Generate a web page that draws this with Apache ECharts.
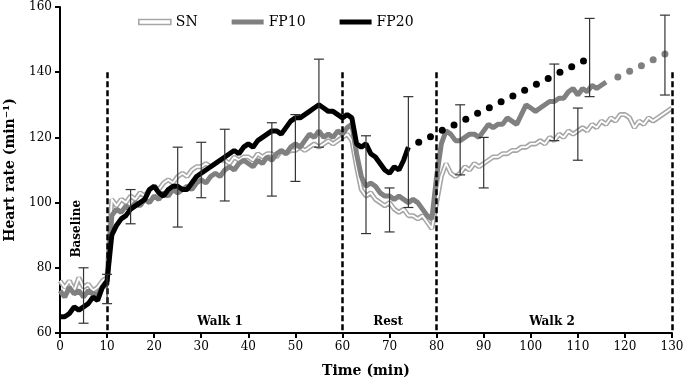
<!DOCTYPE html>
<html>
<head>
<meta charset="utf-8">
<title>Heart rate</title>
<script src="https://cdn.jsdelivr.net/npm/echarts@6/dist/echarts.min.js"></script>
<style>
    html,body{margin:0;padding:0;background:#fff;}
    #chart{width:686px;height:384px;}
</style>
</head>
<body>
<div id="chart"></div>
<script>
/*-------------------------数据----------------------------*/
//每分钟一个点, 下标 = 时间(min)
var snHR = [
    76,74,76,73,77,74,75,73,74,76,77,
    101,99,101,100,102,101,103,102,104,105,
    104,106,107,106,108,109,108,110,111,111,
    112,111,112,113,113,112,114,113,114,114,
    113,115,114,115,115,114,116,115,116,116,
    117,116,117,118,117,118,119,118,119,120,
    121,119,111,104,102,103,101,100,99,100,
    98,97,98,96,96,95,96,94,92,100,
    108,112,109,108,109,111,110,112,111,112,
    113,114,114,115,115,116,116,117,117,118,
    118,119,118,120,119,121,120,122,121,122,
    123,122,124,123,125,124,126,125,127,127,
    126,123,125,124,126,125,126,127,128,129
];
var fp10HR = [
    73,71,74,72,73,71,73,72,72,74,75,
    96,98,97,99,98,100,99,101,100,102,
    101,103,102,104,103,104,105,104,106,107,
    106,108,109,108,110,111,110,112,113,112,
    111,113,112,114,113,115,116,115,117,118,
    117,119,121,120,122,120,121,120,122,121,
    123,124,115,108,105,106,105,103,102,102,
    101,102,101,100,101,100,98,96,95,108,
    118,122,121,119,119,120,121,121,120,122,
    124,123,124,124,126,125,124,127,130,129,
    128,129,130,131,131,132,132,134,135,133,
    135,134,136,135,136,137
];
var fp20HR = [
    65,65,66,68,67,68,69,71,70,74,76,
    90,93,95,96,98,99,100,101,104,105,
    103,102,104,105,105,104,104,106,108,109,
    110,111,112,113,114,115,116,115,117,118,
    117,119,120,121,122,122,121,123,125,126,
    126,127,128,129,130,129,128,128,127,126,
    127,126,118,117,118,115,114,112,110,109,
    111,110,113,117
];
//点状延伸部分
var fp20DotT = [76.2,78.7,81.2,83.7,86.2,88.7,91.2,93.7,96.2,98.7,101.2,103.7,106.2,108.7,111.2];
var fp20DotV = [118.5,120.2,122.2,123.8,125.6,127.4,129.1,130.9,132.7,134.5,136.3,138.1,140,141.7,143.4];
var fp10DotT = [118.5,121,123.5,126,128.5];
var fp10DotV = [138.5,140.3,142,143.8,145.6];
//误差线 时间 / 下限 / 上限
var errT  = [5,10,15,25,30,35,45,50,55,65,70,74,85,90,105,110,112.5,128.5];
var errLo = [63,69,93.5,92.5,101.5,100.5,102,106.5,117,90.5,91,98.5,108.5,104.5,119,113,132.5,133];
var errHi = [80,78,104,117,118.5,122.5,124.5,127,144,120.5,104.5,132.5,130,120,142.5,129,156.5,157.5];
//阶段分隔线
var phaseLines = [10,60,80,130];
var xTicks = {min:0, max:130, step:10};
var yTicks = {min:60, max:160, step:20};

/*-------------------------数据整理----------------------------*/
function toPairs(arr){
    var out = [];
    for(var i=0;i<arr.length;i++){
        out.push([i, arr[i]]);
    }
    return out;
}
function zip(a, b){
    var out = [];
    for(var i=0;i<a.length;i++){
        out.push([a[i], b[i]]);
    }
    return out;
}
var errData = [];
for(var i=0;i<errT.length;i++){
    errData.push([errT[i], errLo[i], errHi[i]]);
}
var markLines = [];
for(var i=0;i<phaseLines.length;i++){
    markLines.push([{coord:[phaseLines[i],140]},{coord:[phaseLines[i],60]}]);
}

var serif = 'DejaVu Serif';

//误差线绘制
function renderErrBar(params, api){
    var x = api.value(0);
    var lo = api.coord([x, api.value(1)]);
    var hi = api.coord([x, api.value(2)]);
    var half = 5;
    var style = {stroke:'#333', lineWidth:1.2};
    return {
        type:'group',
        children:[
            {type:'line', shape:{x1:lo[0],y1:lo[1],x2:hi[0],y2:hi[1]}, style:style},
            {type:'line', shape:{x1:hi[0]-half,y1:hi[1],x2:hi[0]+half,y2:hi[1]}, style:style},
            {type:'line', shape:{x1:lo[0]-half,y1:lo[1],x2:lo[0]+half,y2:lo[1]}, style:style}
        ]
    };
}

/*------------------------echarts初始化-----------------------*/
var myChart = echarts.init(document.getElementById('chart'));
var option = {
    animation:false,
    backgroundColor:'#fff',
    grid:{left:60, right:14, top:7, bottom:51, containLabel:false, outerBoundsMode:'none'},
    legend:{
        left:133,
        top:10,
        itemWidth:32,
        itemHeight:5,
        itemGap:34,
        textStyle:{fontFamily:serif, fontSize:14, color:'#000'},
        data:[
            {name:'SN', icon:'rect', itemStyle:{color:'#fff', borderColor:'#a6a6a6', borderWidth:1.6}},
            {name:'FP10', icon:'rect', itemStyle:{color:'#808080'}},
            {name:'FP20', icon:'rect', itemStyle:{color:'#000'}}
        ]
    },
    xAxis:{
        type:'value',
        min:xTicks.min,
        max:xTicks.max,
        interval:xTicks.step,
        name:'Time (min)',
        nameLocation:'middle',
        nameGap:31,
        nameTextStyle:{fontFamily:serif, fontSize:14, fontWeight:'bold', color:'#000'},
        axisLine:{lineStyle:{color:'#000', width:2}},
        axisTick:{show:true, length:5, lineStyle:{color:'#000', width:2}},
        axisLabel:{fontFamily:serif, fontSize:12, color:'#000', margin:8},
        splitLine:{show:false}
    },
    yAxis:{
        type:'value',
        min:yTicks.min,
        max:yTicks.max,
        interval:yTicks.step,
        name:'Heart rate (min\u207B\u00B9)',
        nameLocation:'middle',
        nameGap:43,
        nameTextStyle:{fontFamily:serif, fontSize:14, fontWeight:'bold', color:'#000'},
        axisLine:{show:true, lineStyle:{color:'#000', width:2}},
        axisTick:{show:true, length:5, lineStyle:{color:'#000', width:2}},
        axisLabel:{fontFamily:serif, fontSize:12, color:'#000', margin:8},
        splitLine:{show:false}
    },
    series:[
        {
            name:'SN',
            type:'line',
            data:toPairs(snHR),
            showSymbol:false,
            lineStyle:{color:'#a6a6a6', width:5},
            itemStyle:{color:'#a6a6a6'},
            z:2,
            markLine:{
                silent:true,
                symbol:'none',
                label:{show:false},
                lineStyle:{color:'#000', width:2.5, type:[6,3]},
                data:markLines
            }
        },
        {
            name:'SN-inner',
            type:'line',
            data:toPairs(snHR),
            showSymbol:false,
            lineStyle:{color:'#fff', width:1.8},
            z:3
        },
        {
            name:'FP10',
            type:'line',
            data:toPairs(fp10HR),
            showSymbol:false,
            lineStyle:{color:'#808080', width:5},
            itemStyle:{color:'#808080'},
            z:4
        },
        {
            name:'FP10-dots',
            type:'scatter',
            data:zip(fp10DotT, fp10DotV),
            symbolSize:7,
            itemStyle:{color:'#808080', opacity:1},
            z:4
        },
        {
            name:'FP20',
            type:'line',
            data:toPairs(fp20HR),
            showSymbol:false,
            lineStyle:{color:'#000', width:5},
            itemStyle:{color:'#000'},
            z:5
        },
        {
            name:'FP20-dots',
            type:'scatter',
            data:zip(fp20DotT, fp20DotV),
            symbolSize:7,
            itemStyle:{color:'#000', opacity:1},
            z:5
        },
        {
            name:'err',
            type:'custom',
            data:errData,
            encode:{x:0, y:[1,2]},
            renderItem:renderErrBar,
            silent:true,
            z:6
        }
    ]
};
myChart.setOption(option);

/*-------------------------阶段文字----------------------------*/
var phaseText = [
    {text:'Baseline', at:[3.5, 92], rot:Math.PI/2},
    {text:'Walk 1', at:[34, 63.3], rot:0},
    {text:'Rest', at:[69.7, 63.3], rot:0},
    {text:'Walk 2', at:[104.5, 63.3], rot:0}
];
var graphics = [];
for(var i=0;i<phaseText.length;i++){
    var p = myChart.convertToPixel({gridIndex:0}, phaseText[i].at);
    graphics.push({
        type:'text',
        x:p[0],
        y:p[1],
        rotation:phaseText[i].rot,
        z:10,
        style:{
            text:phaseText[i].text,
            font:'bold 12px "DejaVu Serif"',
            fill:'#000',
            align:'center',
            verticalAlign:'middle',
            textAlign:'center',
            textVerticalAlign:'middle'
        }
    });
}
myChart.setOption({graphic:graphics});
</script>
</body>
</html>
